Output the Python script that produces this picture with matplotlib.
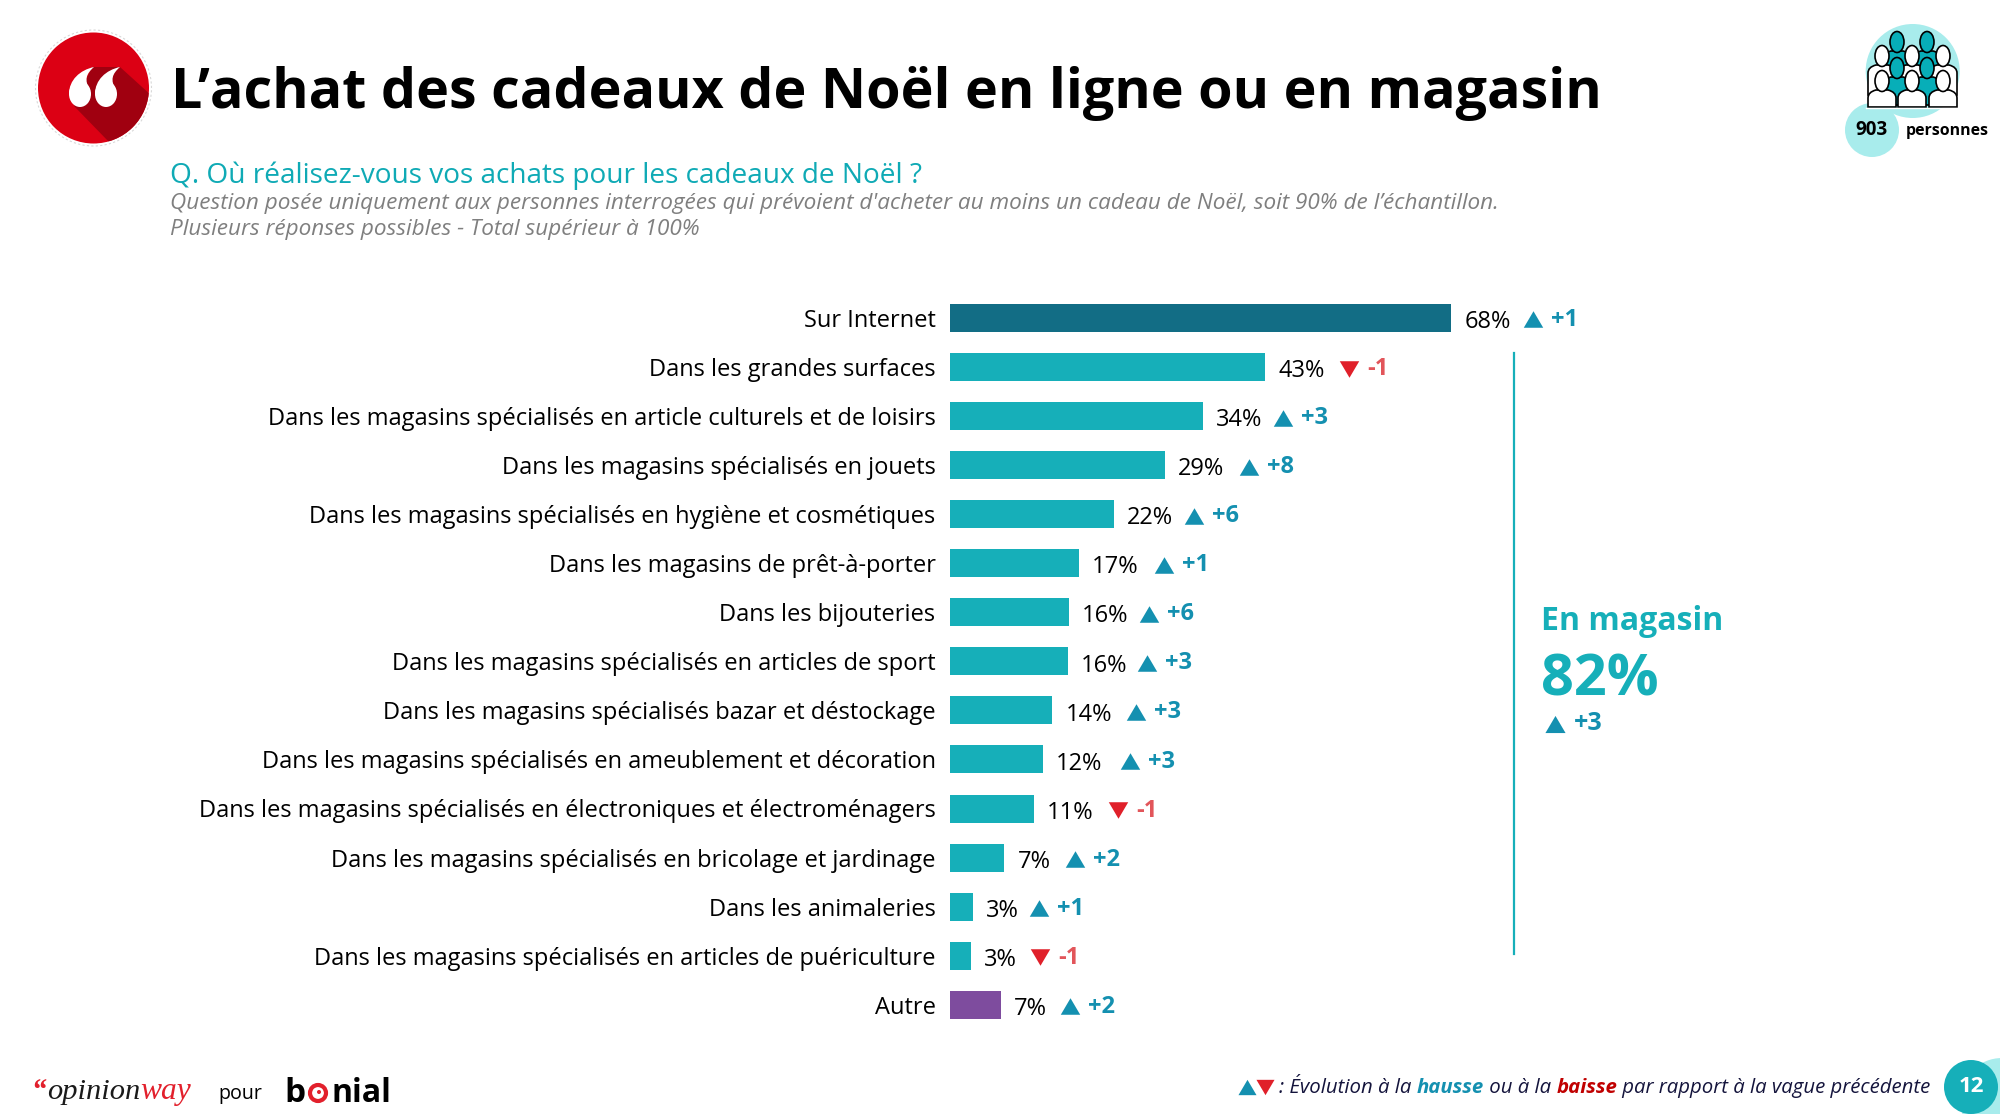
import matplotlib
matplotlib.use("Agg")
import matplotlib.pyplot as plt
from matplotlib.font_manager import FontProperties
from matplotlib.patches import Circle, Ellipse, Polygon, PathPatch
from matplotlib.path import Path
from matplotlib.textpath import TextPath

# ---------- data ----------
categories = [
    "Sur Internet",
    "Dans les grandes surfaces",
    "Dans les magasins spécialisés en article culturels et de loisirs",
    "Dans les magasins spécialisés en jouets",
    "Dans les magasins spécialisés en hygiène et cosmétiques",
    "Dans les magasins de prêt-à-porter",
    "Dans les bijouteries",
    "Dans les magasins spécialisés en articles de sport",
    "Dans les magasins spécialisés bazar et déstockage",
    "Dans les magasins spécialisés en ameublement et décoration",
    "Dans les magasins spécialisés en électroniques et électroménagers",
    "Dans les magasins spécialisés en bricolage et jardinage",
    "Dans les animaleries",
    "Dans les magasins spécialisés en articles de puériculture",
    "Autre",
]
bar_lengths = [67.8, 42.7, 34.2, 29.1, 22.2, 17.5, 16.1, 16.0, 13.9, 12.6, 11.4, 7.4, 3.2, 2.9, 6.9]
value_labels = [68, 43, 34, 29, 22, 17, 16, 16, 14, 12, 11, 7, 3, 3, 7]
evolutions = [1, -1, 3, 8, 6, 1, 6, 3, 3, 3, -1, 2, 1, -1, 2]

# ---------- layout / styles ----------
evo_gap_px = [82, 84, 80, 84, 80, 85, 80, 79, 84, 87, 84, 71, 66, 69, 69]
TEAL = "#16AFB9"
DARK = "#126D85"
PURPLE = "#7E4C9E"
UP = "#1490B0"
DOWN = "#E0202A"
DOWN_TXT = "#E2555A"
PALE = "#A8ECEC"
FONT = "Open Sans"
PX_PER_UNIT = 7.4
W, H = 2000, 1114


def fit(s, px, **kw):
    """font size in points so that string s spans px pixels"""
    kw.setdefault("family", FONT)
    w = TextPath((0, 0), s, size=100, prop=FontProperties(**kw)).get_extents().width
    return 100 * (px * 0.72) / w


fig = plt.figure(figsize=(20, 11.14), dpi=100, facecolor="white")
bg = fig.add_axes([0, 0, 1, 1])
bg.set_xlim(0, W)
bg.set_ylim(H, 0)
bg.axis("off")

# ---------- bars ----------
ROW0, PITCH = 318.0, 49.05
n = len(categories)
ax_left, ax_right = 949.5, 949.5 + 80 * PX_PER_UNIT
ax_top, ax_bot = ROW0 - PITCH / 2, ROW0 + (n - 1) * PITCH + PITCH / 2
ax = fig.add_axes([ax_left / W, 1 - ax_bot / H, (ax_right - ax_left) / W, (ax_bot - ax_top) / H])
ax.patch.set_alpha(0)
ax.set_xlim(0, 80)
ax.set_ylim(n - 0.5, -0.5)
colors = [DARK] + [TEAL] * (n - 2) + [PURPLE]
ax.barh(range(n), bar_lengths, height=28 / PITCH, color=colors)
for s in ax.spines.values():
    s.set_visible(False)
ax.xaxis.set_visible(False)
cat_fs = fit(categories[10], 732)
ax.set_yticks(range(n))
ax.set_yticklabels(categories, family=FONT, fontsize=cat_fs, color="black")
ax.tick_params(axis="y", length=0, pad=10)

tri_up = [(-1, -0.85), (1, -0.85), (0, 0.85)]
tri_down = [(-1, 0.85), (1, 0.85), (0, -0.85)]
for i, (b, v, e, g) in enumerate(zip(bar_lengths, value_labels, evolutions, evo_gap_px)):
    ax.annotate(f"{v}%", (b, i), xytext=(9.5, -3), textcoords="offset points",
                family=FONT, fontsize=17, color="black", va="center", ha="left")
    xm = b + g / PX_PER_UNIT
    ax.plot([xm], [i + 0.03], marker=tri_up if e > 0 else tri_down, ms=14, ls="none",
            color=UP if e > 0 else DOWN, mew=0, clip_on=False)
    ax.annotate(f"{e:+d}", (xm, i), xytext=(13, -1.5), textcoords="offset points",
                family=FONT, fontsize=17, weight="bold",
                color=UP if e > 0 else DOWN_TXT, va="center", ha="left")

# ---------- bracket ----------
bg.plot([1514, 1514], [353, 954], color=TEAL, lw=1.6)
bg.text(1541, 621, "En magasin", family=FONT, weight="bold", color=TEAL, va="center",
        fontsize=fit("En magasin", 177, weight="bold"))
bg.text(1541, 681, "82%", family=FONT, weight="bold", color=TEAL, va="center",
        fontsize=fit("82%", 114, weight="bold"))
bg.plot([1555], [724], marker=tri_up, ms=14.5, color=UP, mew=0, ls="none")
bg.text(1574, 724, "+3", family=FONT, weight="bold", color=UP, va="center", fontsize=18)

# ---------- header ----------
title = "L’achat des cadeaux de Noël en ligne ou en magasin"
bg.text(171, 108, title, family=FONT, weight="bold", color="black", va="baseline",
        fontsize=fit(title, 1422, weight="bold"))
q = "Q. Où réalisez-vous vos achats pour les cadeaux de Noël ?"
bg.text(170, 176, q, family=FONT, color="#0FAAB5", va="center", fontsize=fit(q, 750))
s1 = "Question posée uniquement aux personnes interrogées qui prévoient d'acheter au moins un cadeau de Noël, soit 90% de l’échantillon."
s2 = "Plusieurs réponses possibles - Total supérieur à 100%"
gs = fit(s1, 1322, style="italic")
bg.text(170, 204, s1, family=FONT, style="italic", color="#7F7F7F", va="center", fontsize=gs)
bg.text(170, 229, s2, family=FONT, style="italic", color="#7F7F7F", va="center", fontsize=gs)

# ---------- quote icon ----------
cx, cy, r = 93.5, 88, 55.5
bg.add_patch(Circle((cx, cy), r + 2.5, fc="none", ec="#D8D8D8", lw=0.8, ls=(0, (2, 2))))
disc = Circle((cx, cy), r, fc="#DC0014", ec="none")
bg.add_patch(disc)
shadow = Polygon([(74, 106), (109, 142), (152, 142), (152, 96), (120, 67), (92, 67)],
                 fc="#A00010", ec="none")
bg.add_patch(shadow)
shadow.set_clip_path(disc)
for dx in (0, 26):
    bg.add_patch(Ellipse((80 + dx, 94), 22, 26, fc="white", ec="none"))
    tail = Path([(69 + dx, 94), (69 + dx, 80), (80 + dx, 70), (94 + dx, 67),
                 (86 + dx, 74), (84 + dx, 80), (90 + dx, 90), (69 + dx, 94)],
                [Path.MOVETO, Path.CURVE4, Path.CURVE4, Path.CURVE4,
                 Path.CURVE4, Path.CURVE4, Path.CURVE4, Path.CLOSEPOLY])
    bg.add_patch(PathPatch(tail, fc="white", ec="none"))

# ---------- sample icon ----------
bg.add_patch(Circle((1912.7, 71), 47, fc=PALE, ec="none"))
bg.add_patch(Circle((1872, 130), 27, fc=PALE, ec="none"))


def person(x, head_y, col, bottom):
    top = head_y + 9
    body = Path([(x - 14, bottom), (x - 14, top + 8), (x - 14, top + 2), (x - 6, top),
                 (x + 6, top), (x + 14, top + 2), (x + 14, top + 8), (x + 14, bottom),
                 (x - 14, bottom)],
                [Path.MOVETO, Path.LINETO, Path.CURVE3, Path.CURVE3, Path.LINETO,
                 Path.CURVE3, Path.CURVE3, Path.LINETO, Path.CLOSEPOLY])
    bg.add_patch(PathPatch(body, fc=col, ec="black", lw=1.2))
    bg.add_patch(Ellipse((x, head_y), 14, 21, fc=col, ec="black", lw=1.2))


ICON = "#07AEB8"
for x in (1897, 1927):
    person(x, 42, ICON, 80)
for x in (1882, 1912, 1943):
    person(x, 56, "white", 95)
for x in (1897, 1927):
    person(x, 68, ICON, 105)
for x in (1882, 1912, 1943):
    person(x, 81, "white", 107)
bg.plot([1866, 1959], [107.5, 107.5], color="white", lw=1.0)
bg.text(1871, 130, "903", family=FONT, weight="bold", color="black", ha="center", va="center",
        fontsize=fit("903", 31, weight="bold"))
bg.text(1906, 131, "personnes", family=FONT, weight="bold", color="black", va="center",
        fontsize=fit("personnes", 81, weight="bold"))

# ---------- footer left ----------
SERIF = "Liberation Serif"
bg.text(31, 1099, "“", family=SERIF, style="italic", weight="bold", color="#E2202C", fontsize=21)
bg.text(47, 1099, "opinion", family=SERIF, style="italic", color="#1A1A1A",
        fontsize=fit("opinion", 91, family=SERIF, style="italic"))
bg.text(140, 1099, "way", family=SERIF, style="italic", color="#E2202C",
        fontsize=fit("way", 50, family=SERIF, style="italic"))
bg.text(218, 1099, "pour", family=FONT, color="black", fontsize=fit("pour", 42))
bg.text(284, 1102, "b", family=FONT, weight="bold", color="black", fontsize=24)
bg.add_patch(Circle((318, 1093), 8, fc="none", ec="#E2202C", lw=3))
bg.add_patch(Circle((319, 1092), 2, fc="#E2202C", ec="none"))
bg.text(332, 1102, "nial", family=FONT, weight="bold", color="black",
        fontsize=fit("nial", 55, weight="bold"))

# ---------- footer right ----------
bg.plot([1247], [1087], marker=tri_up, ms=13, color=UP, mew=0, ls="none")
bg.plot([1265], [1087], marker=tri_down, ms=13, color=DOWN, mew=0, ls="none")
parts = [(": Évolution à la ", "#14143C", "normal"), ("hausse", UP, "bold"),
         (" ou à la ", "#14143C", "normal"), ("baisse", "#C00000", "bold"),
         (" par rapport à la vague précédente", "#14143C", "normal")]
full = "".join(p[0] for p in parts)
leg_fs = fit(full, 642, style="italic")
fig.canvas.draw()
renderer = fig.canvas.get_renderer()
x = 1279
for s, c, w in parts:
    label = s.replace(" ", "\u00a0")
    prop = FontProperties(family=FONT, style="italic", weight=w, size=leg_fs)
    adv = renderer.get_text_width_height_descent(label, prop, False)[0]
    bg.text(x, 1088, label, fontproperties=prop, color=c, va="center")
    x += adv
bg.add_patch(Circle((2002, 1100), 42, fc=PALE, ec="none"))
bg.add_patch(Circle((1971, 1087), 27, fc=TEAL, ec="none"))
bg.text(1971, 1087, "12", family=FONT, weight="bold", color="white", ha="center", va="center", fontsize=16)

fig.savefig("out.png", dpi=100, facecolor="white")
